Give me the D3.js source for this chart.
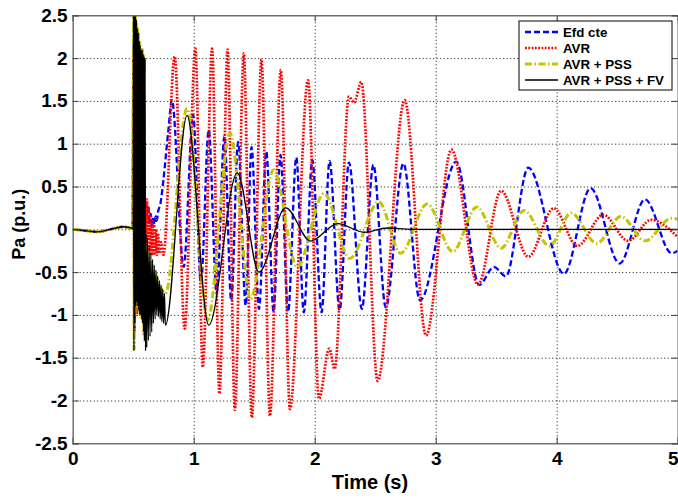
<!DOCTYPE html>
<html><head><meta charset="utf-8">
<script src="https://cdn.jsdelivr.net/npm/d3@7"></script>
<style>body{margin:0;background:#fff}svg{display:block}</style>
</head><body>
<svg id="c" width="678" height="498"></svg>
<script>
// ---------------- data ----------------
const xTicks = [0, 1, 2, 3, 4, 5];
const yTicks = [-2.5, -2, -1.5, -1, -0.5, 0, 0.5, 1, 1.5, 2, 2.5];
const seriesNames = ["Efd cte", "AVR", "AVR + PSS", "AVR + PSS + FV"];
const xTitle = "Time (s)";
const yTitle = "Pa (p.u.)";

// common pre-fault part [time, Pa]
const preFault = [[0,0],[0.1,-0.015],[0.2,-0.03],[0.3,-0.005],[0.42,0.03],[0.495,0.01]];

const efdCte = [...preFault,
 [0.503,2.2],[0.51,-1.2],[0.52,2.0],[0.53,-1.0],[0.54,1.8],[0.55,-0.8],[0.56,1.5],[0.57,-0.6],[0.58,1.0],[0.59,-0.5],[0.6,0.35],
 [0.615,0.15],[0.625,0.28],[0.635,0.05],[0.645,0.18],[0.655,0.03],[0.665,0.14],[0.675,0.05],[0.685,0.15],[0.695,0.1],[0.705,0.2],
 [0.725,0.3],[0.75,0.58],[0.79,1.15],[0.82,1.51],[0.917,-0.44],[0.995,1.34],[1.06,-0.62],[1.124,1.16],[1.19,-0.75],[1.254,1.09],
 [1.31,-0.83],[1.367,1.02],[1.43,-0.89],[1.478,0.96],[1.54,-0.93],[1.60,0.91],[1.66,-0.965],[1.717,0.87],[1.78,-0.965],[1.848,0.84],
 [1.91,-0.97],[1.98,0.81],[2.057,-0.97],[2.123,0.80],[2.206,-0.946],[2.283,0.78],[2.39,-0.93],[2.485,0.755],[2.587,-0.91],[2.733,0.77],
 [2.87,-0.83],[3.17,0.79],[3.36,-0.65],[3.48,-0.44],[3.58,-0.55],[3.765,0.72],[4.06,-0.52],[4.28,0.48],[4.52,-0.40],[4.73,0.35],
 [4.95,-0.28],[5.0,-0.25]];

const avr = [...preFault,
 [0.503,2.0],[0.51,-1.2],[0.52,1.8],[0.53,-1.0],[0.54,1.6],[0.55,-0.9],[0.56,1.2],[0.57,-1.0],[0.58,0.8],[0.59,-1.24],[0.6,0.3],
 [0.607,-0.2],[0.614,0.35],[0.621,-0.1],[0.628,0.25],[0.635,-0.25],[0.642,0.15],[0.65,-0.3],[0.657,0.1],[0.665,-0.3],[0.672,0.05],
 [0.68,-0.28],[0.688,0.0],[0.696,-0.3],[0.705,-0.05],[0.715,-0.28],[0.73,-0.15],[0.75,-0.3],[0.843,2.02],[0.925,-1.16],[1.014,2.11],
 [1.075,-1.61],[1.152,2.11],[1.213,-1.92],[1.28,2.10],[1.34,-2.11],[1.414,2.055],[1.48,-2.20],[1.56,1.985],[1.63,-2.18],[1.72,1.86],
 [1.795,-2.10],[1.945,1.74],[2.035,-1.98],[2.12,-1.395],[2.165,-1.63],[2.283,1.55],[2.325,1.48],[2.385,1.72],[2.52,-1.77],[2.744,1.51],
 [2.92,-1.24],[3.13,0.93],[3.35,-0.645],[3.54,0.45],[3.765,-0.32],[3.975,0.245],[4.17,-0.195],[4.385,0.17],[4.59,-0.135],[4.78,0.11],
 [5.0,-0.09]];

const avrPss = [...preFault,
 [0.504,2.6],[0.508,-1.4],[0.512,2.6],[0.516,-1.0],[0.52,2.5],[0.524,-0.9],[0.528,2.4],[0.532,-0.85],[0.536,2.35],[0.54,-0.9],
 [0.544,2.3],[0.548,-0.95],[0.552,2.2],[0.556,-1.0],[0.56,2.15],[0.564,-1.0],[0.568,2.1],[0.572,-1.05],[0.576,2.1],[0.58,-1.1],
 [0.584,2.05],[0.588,-1.2],[0.592,2.0],[0.596,-1.3],[0.6,-0.25],[0.67,-0.47],[0.766,-0.75],[0.945,1.41],[1.115,-1.06],[1.30,1.12],
 [1.47,-0.81],[1.66,0.695],[1.855,-0.44],[2.077,0.42],[2.29,-0.34],[2.53,0.32],[2.71,-0.28],[2.93,0.297],[3.14,-0.26],[3.34,0.26],
 [3.54,-0.22],[3.73,0.22],[3.94,-0.195],[4.12,0.19],[4.33,-0.165],[4.53,0.15],[4.73,-0.135],[4.95,0.13],[5.0,0.12]];

const avrPssFv = [...preFault,
 [0.500,0.0],[0.502,2.6],[0.506,-1.42],[0.510,2.6],[0.514,-1.1],[0.518,2.55],[0.522,-0.9],[0.526,2.45],[0.530,-0.85],[0.534,2.35],
 [0.538,-0.9],[0.542,2.3],[0.546,-0.95],[0.550,2.2],[0.554,-1.0],[0.558,2.15],[0.562,-1.0],[0.566,2.1],[0.570,-1.05],[0.574,2.1],
 [0.578,-1.1],[0.582,2.05],[0.586,-1.2],[0.590,2.02],[0.594,-1.3],[0.598,2.0],[0.602,-1.42],[0.606,-0.05],[0.612,-1.38],[0.618,-0.1],
 [0.625,-1.3],[0.632,-0.2],[0.639,-1.25],[0.646,-0.28],[0.653,-1.2],[0.66,-0.35],[0.667,-1.1],[0.674,-0.42],[0.681,-1.05],[0.688,-0.48],
 [0.695,-1.0],[0.702,-0.55],[0.709,-1.02],[0.716,-0.6],[0.723,-1.05],[0.730,-0.65],[0.737,-1.08],[0.744,-0.7],[0.751,-1.1],[0.758,-0.75],
 [0.766,-1.12],[0.945,1.33],[1.124,-1.12],[1.36,0.66],[1.54,-0.50],[1.76,0.25],[1.966,-0.137],[2.19,0.066],[2.41,-0.035],[2.6,0.015],
 [2.8,0],[5.0,0]];

// ---------------- drawing ----------------
const W = 678, H = 498;
const L = 72.7, R = 677.7, T = 15.3, B = 443.3;
const svg = d3.select("#c");
const x = d3.scaleLinear().domain([0, 5]).range([L, R]);
const y = d3.scaleLinear().domain([-2.5, 2.5]).range([B, T]);
const FONT = "'Liberation Sans', Arial, Helvetica, sans-serif";

svg.append("rect").attr("width", W).attr("height", H).attr("fill", "#fff");

// grid (dotted)
const gx = svg.append("g").attr("transform", `translate(0,${B})`)
  .call(d3.axisBottom(x).tickValues(xTicks.slice(1, -1)).tickSize(-(B - T)).tickFormat(""));
const gy = svg.append("g").attr("transform", `translate(${L},0)`)
  .call(d3.axisLeft(y).tickValues(yTicks.slice(1, -1)).tickSize(-(R - L)).tickFormat(""));
[gx, gy].forEach(g => {
  g.select(".domain").remove();
  g.selectAll(".tick line").attr("stroke", "#111").attr("stroke-width", 1).attr("stroke-dasharray", "1,2.5");
});

// clip
svg.append("clipPath").attr("id", "clip").append("rect")
  .attr("x", L).attr("y", T).attr("width", R - L).attr("height", B - T);

const line = d3.line().x(d => x(d[0])).y(d => y(d[1])).curve(d3.curveMonotoneX);
const styles = [
  {data: efdCte,   color: "#0000ff", width: 2.3, dash: "6,3"},
  {data: avr,      color: "#ff0000", width: 2.7, dash: "1.8,1.5"},
  {data: avrPss,   color: "#c4c400", width: 3,   dash: "7,2.5,1.5,2.5"},
  {data: avrPssFv, color: "#000000", width: 1.3, dash: null}
];
const plot = svg.append("g").attr("clip-path", "url(#clip)");
styles.forEach(s => {
  plot.append("path").datum(s.data).attr("d", line)
    .attr("fill", "none").attr("stroke", s.color).attr("stroke-width", s.width)
    .attr("stroke-dasharray", s.dash).attr("stroke-linejoin", "round");
});

// axes box with inward ticks
const axBottom = svg.append("g").attr("transform", `translate(0,${B})`)
  .call(d3.axisBottom(x).tickValues(xTicks).tickSize(-6).tickPadding(8).tickFormat(d => String(d)));
const axTop = svg.append("g").attr("transform", `translate(0,${T})`)
  .call(d3.axisTop(x).tickValues(xTicks).tickSize(-6).tickFormat(""));
const axLeft = svg.append("g").attr("transform", `translate(${L},0)`)
  .call(d3.axisLeft(y).tickValues(yTicks).tickSize(-6).tickPadding(5).tickFormat(d => String(d)));
const axRight = svg.append("g").attr("transform", `translate(${R},0)`)
  .call(d3.axisRight(y).tickValues(yTicks).tickSize(-6).tickFormat(""));
[axBottom, axTop, axLeft, axRight].forEach(g => {
  g.select(".domain").attr("stroke", "#707070").attr("stroke-width", 1.5);
  g.selectAll(".tick line").attr("stroke", "#404040");
  g.selectAll(".tick text").attr("font-family", FONT).attr("font-weight", "bold")
    .attr("font-size", 19).attr("fill", "#000");
});
// keep the last x label inside the picture (it sits on the right edge)
axBottom.selectAll(".tick text").filter(d => d === 5).attr("dx", -5);

// axis titles
svg.append("text").attr("x", 370).attr("y", 489)
  .attr("text-anchor", "middle").attr("font-family", FONT).attr("font-weight", "bold")
  .attr("font-size", 20).text(xTitle);
svg.append("text").attr("transform", `translate(25,${(T + B) / 2 - 5}) rotate(-90)`)
  .attr("text-anchor", "middle").attr("font-family", FONT).attr("font-weight", "bold")
  .attr("font-size", 18).text(yTitle);

// legend
const lg = svg.append("g");
lg.append("rect").attr("x", 519).attr("y", 21).attr("width", 153).attr("height", 69)
  .attr("fill", "#fff").attr("stroke", "#000").attr("stroke-width", 1);
styles.forEach((s, i) => {
  const yy = 32 + i * 16;
  lg.append("line").attr("x1", 525).attr("x2", 558).attr("y1", yy).attr("y2", yy)
    .attr("stroke", s.color).attr("stroke-width", s.width).attr("stroke-dasharray", s.dash);
  lg.append("text").attr("x", 563).attr("y", yy).attr("dy", "0.36em")
    .attr("font-family", FONT).attr("font-weight", "bold").attr("font-size", 13.3)
    .text(seriesNames[i]);
});
</script>
</body></html>
